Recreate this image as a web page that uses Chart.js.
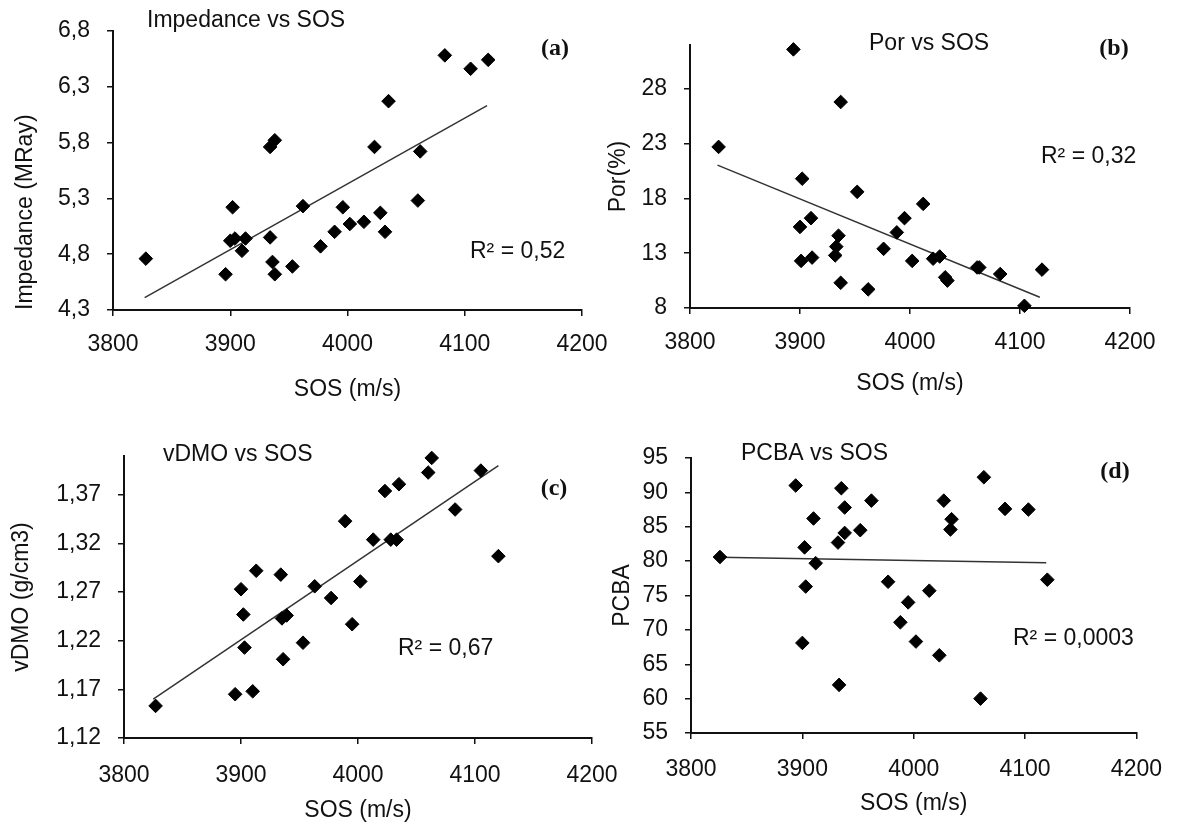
<!DOCTYPE html>
<html lang="en">
<head>
<meta charset="UTF-8">
<title>SOS correlations</title>
<script src="https://cdn.jsdelivr.net/npm/chart.js@4.4.1/dist/chart.umd.min.js"></script>
<style>
    html, body { margin: 0; padding: 0; background: #fff; }
    #wrap { position: relative; width: 1179px; height: 823px; }
    #wrap canvas { position: absolute; left: 0; top: 0; }
</style>
</head>
<body>
<div id="wrap">
    <canvas id="chartA" width="1179" height="823"></canvas>
    <canvas id="chartB" width="1179" height="823"></canvas>
    <canvas id="chartC" width="1179" height="823"></canvas>
    <canvas id="chartD" width="1179" height="823"></canvas>
</div>

<script>
// ---- data ----
var xTicks = [3800, 3900, 4000, 4100, 4200];

// (a) impedance
var sosA = [3828, 3896, 3902, 3900, 3904, 3910, 3913, 3934, 3934, 3938, 3936, 3938, 3953, 3962, 3977, 3989, 3996, 4002, 4014, 4023, 4028, 4032, 4035, 4060, 4062, 4083, 4105, 4120];
var impedance = [4.76, 4.62, 5.22, 4.92, 4.94, 4.83, 4.94, 4.95, 5.76, 5.82, 4.73, 4.62, 4.69, 5.23, 4.87, 5.00, 5.22, 5.07, 5.09, 5.76, 5.17, 5.00, 6.17, 5.28, 5.72, 6.58, 6.46, 6.54];
var trendAx = [3827, 4119];
var trendAy = [4.41, 6.13];
var ticksA = [4.3, 4.8, 5.3, 5.8, 6.3, 6.8];

// (b) porosity
var sosB = [3826, 3894, 3900, 3901, 3902, 3910, 3911, 3932, 3933, 3935, 3937, 3937, 3952, 3962, 3976, 3988, 3995, 4002, 4012, 4021, 4027, 4032, 4034, 4061, 4063, 4082, 4104, 4120];
var porosity = [22.7, 31.6, 15.4, 12.3, 19.8, 16.2, 12.6, 12.8, 13.6, 14.6, 26.8, 10.3, 18.6, 9.7, 13.4, 14.9, 16.2, 12.3, 17.5, 12.5, 12.7, 10.8, 10.5, 11.7, 11.7, 11.1, 8.2, 11.5];
var trendBx = [3825, 4118];
var trendBy = [21.04, 8.98];
var ticksB = [8, 13, 18, 23, 28];

// (c) vDMO
var sosC = [3827, 3895, 3910, 3900, 3902, 3903, 3913, 3934, 3935, 3939, 3936, 3953, 3963, 3977, 3989, 3995, 4002, 4013, 4023, 4028, 4033, 4035, 4060, 4063, 4083, 4105, 4120];
var vdmo = [1.153, 1.165, 1.168, 1.273, 1.247, 1.213, 1.292, 1.288, 1.243, 1.246, 1.201, 1.218, 1.276, 1.264, 1.343, 1.237, 1.281, 1.324, 1.374, 1.324, 1.324, 1.381, 1.393, 1.408, 1.355, 1.395, 1.307];
var trendCx = [3825, 4120];
var trendCy = [1.160, 1.400];
var ticksC = [1.12, 1.17, 1.22, 1.27, 1.32, 1.37];

// (d) PCBA
var sosD = [3826, 3894, 3900, 3902, 3903, 3910, 3912, 3933, 3932, 3935, 3938, 3938, 3952, 3962, 3977, 3988, 3995, 4002, 4014, 4023, 4027, 4033, 4034, 4060, 4063, 4082, 4103, 4120];
var pcba = [80.6, 91.0, 68.1, 82.0, 76.3, 86.2, 79.7, 62.0, 82.7, 90.6, 84.1, 87.8, 84.5, 88.8, 77.0, 71.1, 74.0, 68.3, 75.7, 66.3, 88.8, 84.6, 86.1, 60.0, 92.2, 87.6, 87.5, 77.3];
var trendDx = [3825, 4119];
var trendDy = [80.56, 79.78];
var ticksD = [55, 60, 65, 70, 75, 80, 85, 90, 95];

// ---- drawing ----
var FONT = "'Liberation Sans', Arial, sans-serif";
var INK = '#111';

// free text inside each panel (titles, panel letters, R²)
var notesPlugin = {
    id: 'notes',
    afterDraw: function (chart, args, opts) {
        var ctx = chart.ctx;
        (opts.items || []).forEach(function (n) {
            ctx.save();
            ctx.font = n.font;
            ctx.fillStyle = INK;
            ctx.textAlign = n.align || 'left';
            ctx.textBaseline = 'middle';
            ctx.fillText(n.text, n.x, n.y);
            ctx.restore();
        });
    }
};

function zip(xs, ys) {
    return xs.map(function (x, i) { return {x: x, y: ys[i]}; });
}

function panel(id, p) {
    var a = p.area;
    return new Chart(document.getElementById(id).getContext('2d'), {
        type: 'scatter',
        data: {
            datasets: [
                {
                    data: zip(p.x, p.y),
                    pointStyle: 'rectRot',
                    pointRadius: 6.8,
                    backgroundColor: '#000',
                    borderColor: '#000',
                    borderWidth: 1,
                    clip: false
                },
                {
                    data: zip(p.tx, p.ty),
                    showLine: true,
                    pointRadius: 0,
                    borderColor: '#333',
                    borderWidth: 1.5,
                    clip: false
                }
            ]
        },
        options: {
            responsive: false,
            animation: false,
            layout: {
                padding: {left: a.l - p.yBox, top: a.t, right: 1179 - a.r, bottom: 823 - a.b - p.xBox}
            },
            plugins: {
                legend: {display: false},
                tooltip: {enabled: false},
                notes: {items: p.notes}
            },
            scales: {
                x: {
                    type: 'linear',
                    min: 3800,
                    max: 4200,
                    afterBuildTicks: function (s) { s.ticks = xTicks.map(function (v) { return {value: v}; }); },
                    afterFit: function (s) { s.height = p.xBox; },
                    grid: {drawOnChartArea: false, drawTicks: true, tickLength: 6, color: INK, lineWidth: 1.5},
                    border: {display: true, color: INK, width: 2},
                    ticks: {
                        color: INK, font: {family: FONT, size: 23}, padding: p.xPad, maxRotation: 0, autoSkip: false,
                        callback: function (v) { return String(v); }
                    },
                    title: {display: true, text: 'SOS (m/s)', color: INK, font: {family: FONT, size: 23}, padding: 0}
                },
                y: {
                    type: 'linear',
                    min: p.yMin,
                    max: p.yMax,
                    afterBuildTicks: function (s) { s.ticks = p.yTicks.map(function (v) { return {value: v}; }); },
                    afterFit: function (s) { s.width = p.yBox; },
                    grid: {drawOnChartArea: false, drawTicks: true, tickLength: 6, color: INK, lineWidth: 1.5},
                    border: {display: true, color: INK, width: 2},
                    ticks: {
                        color: INK, font: {family: FONT, size: 23}, padding: 17, autoSkip: false,
                        callback: function (v) { return v.toFixed(p.dec).replace('.', ','); }
                    },
                    title: {display: true, text: p.yTitle, align: p.yAlign || 'center', color: INK, font: {family: FONT, size: 23}, padding: 0}
                }
            }
        },
        plugins: [notesPlugin]
    });
}

var txt = '23px ' + FONT;
var tag = 'bold 24px "Liberation Serif", "Times New Roman", serif';

panel('chartA', {
    x: sosA, y: impedance, tx: trendAx, ty: trendAy,
    yMin: 4.3, yMax: 6.8, yTicks: ticksA, dec: 1,
    yTitle: 'Impedance (MRay)', yAlign: 'start',
    area: {l: 113, t: 26, r: 582, b: 310}, yBox: 101, xBox: 93, xPad: 15,
    notes: [
        {text: 'Impedance vs SOS', x: 147, y: 21, font: txt},
        {text: '(a)', x: 555, y: 49, font: tag, align: 'center'},
        {text: 'R² = 0,52', x: 470, y: 252, font: txt}
    ]
});

panel('chartB', {
    x: sosB, y: porosity, tx: trendBx, ty: trendBy,
    yMin: 8, yMax: 32, yTicks: ticksB, dec: 0,
    yTitle: 'Por(%)',
    area: {l: 690, t: 45, r: 1130, b: 308}, yBox: 85, xBox: 89, xPad: 15,
    notes: [
        {text: 'Por vs SOS', x: 869, y: 44, font: txt},
        {text: '(b)', x: 1114, y: 49, font: tag, align: 'center'},
        {text: 'R² = 0,32', x: 1041, y: 157, font: txt}
    ]
});

panel('chartC', {
    x: sosC, y: vdmo, tx: trendCx, ty: trendCy,
    yMin: 1.12, yMax: 1.41, yTicks: ticksC, dec: 2,
    yTitle: 'vDMO (g/cm3)',
    area: {l: 124, t: 456, r: 592, b: 738}, yBox: 116, xBox: 86, xPad: 18,
    notes: [
        {text: 'vDMO vs SOS', x: 163, y: 455, font: txt},
        {text: '(c)', x: 554, y: 489, font: tag, align: 'center'},
        {text: 'R² = 0,67', x: 398, y: 649, font: txt}
    ]
});

panel('chartD', {
    x: sosD, y: pcba, tx: trendDx, ty: trendDy,
    yMin: 55, yMax: 95, yTicks: ticksD, dec: 0,
    yTitle: 'PCBA',
    area: {l: 691, t: 458, r: 1144, b: 733}, yBox: 82, xBox: 84, xPad: 17,
    notes: [
        {text: 'PCBA vs SOS', x: 741, y: 454, font: txt},
        {text: '(d)', x: 1115, y: 472, font: tag, align: 'center'},
        {text: 'R² = 0,0003', x: 1013, y: 639, font: txt}
    ]
});
</script>
</body>
</html>
